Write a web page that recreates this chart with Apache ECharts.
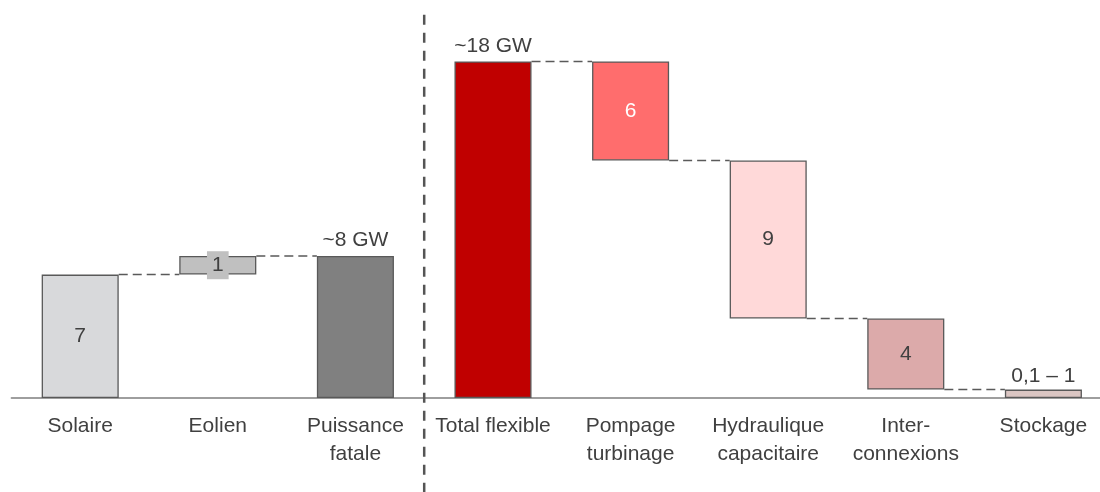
<!DOCTYPE html>
<html>
<head>
<meta charset="utf-8">
<script src="https://cdn.jsdelivr.net/npm/echarts@6/dist/echarts.min.js"></script>
<style>
  html, body { margin: 0; padding: 0; background: #ffffff; }
  #chart { width: 1100px; height: 492px; }
</style>
</head>
<body>
<div id="chart"></div>
<script>
// Categories of the waterfall (GW)
const categories = ['Solaire', 'Eolien', 'Puissance\nfatale', 'Total flexible',
  'Pompage\nturbinage', 'Hydraulique\ncapacitaire', 'Inter-\nconnexions', 'Stockage'];
// Lower and upper bound of each bar (GW)
const barLow  = [0,   6.6, 0,   0,  12.7, 4.25, 0.45, 0];
const barHigh = [6.6, 7.6, 7.6, 18, 18,   12.7, 4.25, 0.45];
// Text written on each bar
const valueLabels = ['7', '1', '~8 GW', '~18 GW', '6', '9', '4', '0,1 \u2013 1'];
// Bars joined by a dashed connector to the next one (index of the left bar)
const connectorFrom = [0, 1, 3, 4, 5, 6];
// Index after which the vertical divider is drawn
const dividerAfter = 2;

// Styling
const FONT = "'Liberation Sans', Arial, sans-serif";
const barColors = ['#d8d9db', '#c0c0c0', '#808080', '#c00000', '#ff6d6d', '#ffd9d9', '#dcaaaa', '#dbc6c3'];
const labelInside = [true, true, false, false, true, true, true, false];
const labelColors = ['#404040', '#404040', '#404040', '#404040', '#ffffff', '#404040', '#404040', '#404040'];
const Y_MAX = 20;
const BAR_RATIO = 0.56;

const chart = echarts.init(document.getElementById('chart'), null, { renderer: 'canvas' });

const valueData = categories.map((c, i) => {
  const item = {
    value: +(barHigh[i] - barLow[i]).toFixed(3),
    itemStyle: { color: barColors[i] },
    label: {
      show: true,
      position: labelInside[i] ? 'inside' : 'top',
      distance: i === 7 ? 3 : 5,
      color: labelColors[i],
      formatter: () => valueLabels[i]
    }
  };
  if (i === 1) {
    item.label.backgroundColor = '#c0c0c0';
    item.label.padding = [4, 5, 3, 5];
  }
  return item;
});

// Level shared by two neighbouring bars
function sharedLevel(i) {
  const a = [barLow[i], barHigh[i]];
  const b = [barLow[i + 1], barHigh[i + 1]];
  for (const v of a) { if (b.indexOf(v) !== -1) return v; }
  return barHigh[i];
}
const connectorData = connectorFrom.map(i => [i, sharedLevel(i), i + 1]);

const option = {
  animation: false,
  backgroundColor: '#ffffff',
  textStyle: { fontFamily: FONT },
  grid: {
    left: 11.4, top: 24, width: 1100.8, bottom: 94,
    containLabel: false, outerBoundsMode: 'none'
  },
  xAxis: {
    type: 'category',
    data: categories,
    axisTick: { show: false },
    axisLine: { lineStyle: { color: '#7f7f7f', width: 1.5 } },
    axisLabel: {
      interval: 0, fontSize: 21, color: '#404040', lineHeight: 28, margin: 14,
      fontFamily: FONT, hideOverlap: false
    }
  },
  yAxis: {
    type: 'value', min: 0, max: Y_MAX, show: false,
    splitLine: { show: false }
  },
  series: [
    {
      name: 'base', type: 'bar', stack: 'w', barWidth: (BAR_RATIO * 100) + '%',
      itemStyle: { color: 'transparent', borderColor: 'transparent' },
      emphasis: { disabled: true },
      data: barLow,
      z: 2
    },
    {
      name: 'value', type: 'bar', stack: 'w', barWidth: (BAR_RATIO * 100) + '%',
      itemStyle: { borderColor: '#595959', borderWidth: 1.3 },
      label: { fontSize: 21, fontFamily: FONT },
      data: valueData,
      z: 3
    },
    {
      // dashed connectors between neighbouring bars
      name: 'connectors', type: 'custom',
      data: connectorData,
      encode: { x: 0, y: 1 },
      z: 1,
      renderItem: (params, api) => {
        const y = api.value(1);
        const p1 = api.coord([api.value(0), y]);
        const p2 = api.coord([api.value(2), y]);
        const half = api.size([1, 0])[0] * BAR_RATIO / 2;
        return {
          type: 'line',
          shape: { x1: p1[0] + half, y1: p1[1], x2: p2[0] - half, y2: p2[1] },
          style: { stroke: '#5a5a5a', lineWidth: 1.5, lineDash: [9, 5] }
        };
      }
    },
    {
      // vertical divider between fatal and flexible capacity
      name: 'divider', type: 'custom',
      data: [[dividerAfter, Y_MAX + 0.5]],
      encode: { x: 0, y: 1 },
      clip: false,
      z: 1,
      renderItem: (params, api) => {
        const a = api.coord([api.value(0), api.value(1)]);
        const b = api.coord([api.value(0) + 1, api.value(1)]);
        const x = (a[0] + b[0]) / 2;
        return {
          type: 'line',
          shape: { x1: x, y1: a[1], x2: x, y2: api.getHeight() },
          style: { stroke: '#555555', lineWidth: 2.5, lineDash: [10, 8] }
        };
      }
    }
  ]
};

chart.setOption(option);
</script>
</body>
</html>
